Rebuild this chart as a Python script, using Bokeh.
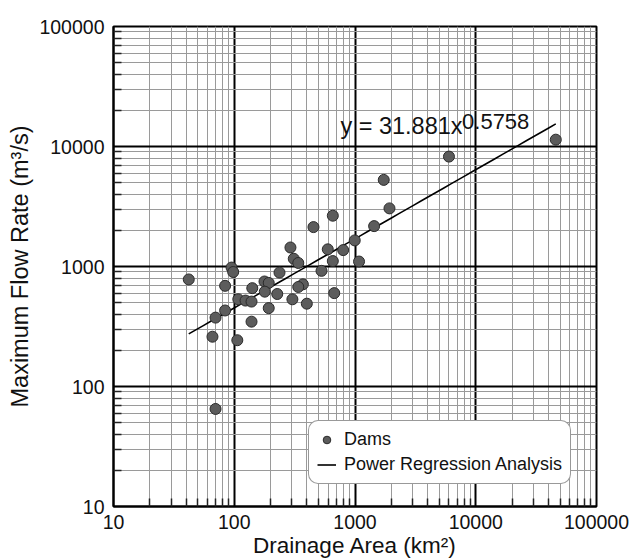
from bokeh.plotting import figure
from bokeh.models import (FixedTicker, PrintfTickFormatter, Legend, LegendItem,
                          Label, ColumnDataSource)
from bokeh.embed import file_html
from bokeh.resources import INLINE
import numpy as np

# Drainage area (km²) and maximum flow rate (m³/s) for each dam
area = [42, 95, 98, 84, 141, 178, 193, 237, 292, 311, 339, 453, 655, 595,
        798, 655, 528, 995, 1080, 1440, 1730, 1930, 6000, 46000, 370, 339,
        227, 179, 108, 124, 139, 303, 399, 673, 193, 84, 70, 139, 66, 106, 70]
flow = [780, 980, 900, 690, 660, 750, 730, 890, 1440, 1160, 1070, 2130, 2650,
        1390, 1370, 1110, 920, 1650, 1100, 2170, 5270, 3050, 8240, 11400, 710,
        675, 590, 617, 533, 520, 510, 533, 490, 600, 450, 430, 375, 347, 260,
        243, 65]

# Power regression y = a * x^b
coef_a = 31.881
coef_b = 0.5758

major_ticks = [10, 100, 1000, 10000, 100000]
minor_ticks = [m * d for d in [10, 100, 1000, 10000] for m in range(2, 10)]

FONT = "Liberation Sans"

p = figure(width=630, height=560, x_axis_type="log", y_axis_type="log",
           x_range=(10, 100000), y_range=(10, 100000),
           output_backend="svg", toolbar_location=None,
           min_border_left=113, min_border_right=34,
           min_border_top=26, min_border_bottom=53)
p.background_fill_color = "white"
p.border_fill_color = "white"
p.outline_line_color = "black"
p.outline_line_width = 2

for ax, grid in ((p.xaxis, p.xgrid), (p.yaxis, p.ygrid)):
    ticker = FixedTicker(ticks=major_ticks, minor_ticks=minor_ticks)
    ax.ticker = ticker
    grid.ticker = ticker
    ax.formatter = PrintfTickFormatter(format="%d")
    ax.major_tick_in = 0
    ax.major_tick_out = 0
    ax.minor_tick_in = 8
    ax.minor_tick_out = 0
    ax.minor_tick_line_color = "#222222"
    ax.minor_tick_line_width = 1.5
    ax.axis_line_color = "black"
    ax.axis_line_width = 2
    ax.major_label_text_font = FONT
    ax.major_label_text_font_size = "19.5px"
    ax.major_label_text_color = "#111111"
    ax.axis_label_text_font = FONT
    ax.axis_label_text_font_style = "normal"
    ax.axis_label_text_color = "#111111"
    grid.grid_line_color = "black"
    grid.grid_line_width = 2
    grid.minor_grid_line_color = "#9a9a9a"
    grid.minor_grid_line_width = 1

p.xaxis.axis_label = "Drainage Area (km²)"
p.yaxis.axis_label = "Maximum Flow Rate (m³/s)"
p.xaxis.axis_label_text_font_size = "22.5px"
p.yaxis.axis_label_text_font_size = "23.5px"
p.xaxis.major_label_standoff = 8
p.yaxis.major_label_standoff = 9
p.xaxis.axis_label_standoff = 1
p.yaxis.axis_label_standoff = 3

# regression curve over the span of the observed areas
fit_x = np.geomspace(min(area), max(area), 50)
fit_y = coef_a * fit_x ** coef_b
fit = p.line(fit_x, fit_y, line_color="black", line_width=1.6)

src = ColumnDataSource(data=dict(area=area, flow=flow))
pts = p.scatter("area", "flow", source=src, size=11, fill_color="#5c5c5c",
                line_color="#2b2b2b", line_width=1)

legend = Legend(items=[LegendItem(label="Dams", renderers=[pts]),
                       LegendItem(label="Power Regression Analysis", renderers=[fit])],
                location=(195, 22), orientation="vertical")
legend.label_text_font = FONT
legend.label_text_font_size = "18px"
legend.label_text_color = "#111111"
legend.border_line_color = "#333333"
legend.border_line_width = 1
legend.background_fill_color = "white"
legend.background_fill_alpha = 1
legend.padding = 8
legend.spacing = 4
legend.margin = 0
legend.glyph_width = 19
legend.glyph_height = 19
legend.label_height = 19
legend.label_standoff = 8
if "border_radius" in Legend.properties():
    legend.border_radius = 10
p.add_layout(legend)

# equation of the fitted curve with its exponent raised
p.add_layout(Label(x=757, y=14700, text=f"y = {coef_a}x", text_font=FONT,
                   text_font_size="23.5px", text_baseline="alphabetic",
                   text_color="#111111"))
p.add_layout(Label(x=7700, y=16200, text=f"{coef_b}", text_font=FONT,
                   text_font_size="22px", text_baseline="alphabetic",
                   text_color="#111111"))

open("out.html", "w").write(file_html(p, INLINE))
